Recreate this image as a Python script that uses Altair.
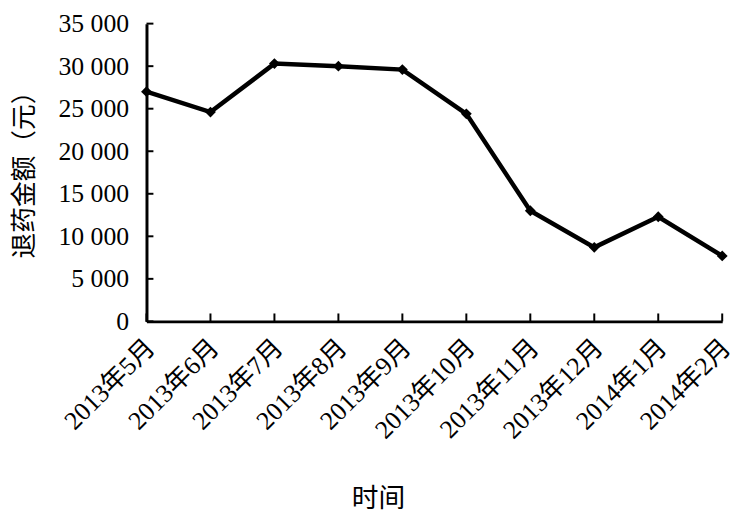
import altair as alt
import pandas as pd

months = ["2013年5月", "2013年6月", "2013年7月", "2013年8月", "2013年9月",
          "2013年10月", "2013年11月", "2013年12月", "2014年1月", "2014年2月"]
amounts = [27000, 24600, 30300, 30000, 29600, 24400, 13000, 8700, 12300, 7700]
y_ticks = [0, 5000, 10000, 15000, 20000, 25000, 30000, 35000]

df = pd.DataFrame({"month": months, "amount": amounts})
tick_df = pd.DataFrame({"v": y_ticks})

FONT = "Liberation Serif, Times New Roman, Noto Sans CJK SC"
TOP = 13
W, H = 582, 301

xscale = alt.Scale(type="point", padding=0, domain=months)
yscale = alt.Scale(domain=[0, 35000], nice=False)

line = alt.Chart(df).mark_line(
    color="black", strokeWidth=4.5,
    point=alt.OverlayMarkDef(shape="diamond", filled=True, color="black", size=120)
).encode(
    x=alt.X("month:N", scale=xscale, sort=months,
            axis=alt.Axis(title="时间", labelAngle=-45, labelAlign="right",
                          labelBaseline="middle", labelFontSize=26, labelPadding=22,
                          labelOffset=4, labelFont=FONT, labelColor="black",
                          titleFont=FONT, titleFontSize=27, titleFontWeight="normal",
                          titleColor="black", titleX=234, titleY=193,
                          titleAnchor="start", titleAlign="center",
                          titleBaseline="bottom", grid=False,
                          domainColor="black", domainWidth=3, ticks=False)),
    y=alt.Y("amount:Q", scale=yscale,
            axis=alt.Axis(title="退药金额（元）", values=y_ticks,
                          labelExpr="replace(format(datum.value, ','), ',', ' ')",
                          labelFontSize=26, labelFont=FONT, labelColor="black",
                          labelPadding=18, grid=False,
                          titleFont=FONT, titleFontSize=26, titleFontWeight="normal",
                          titleColor="black", titleX=-123, titleY=146,
                          titleAlign="center", titleBaseline="middle", titleAngle=-90,
                          domainColor="black", domainWidth=3, ticks=False)),
)

xticks = alt.Chart(df).mark_rule(color="black", strokeWidth=2).encode(
    x=alt.X("month:N", scale=xscale, sort=months),
    y=alt.value(H),
    y2=alt.value(H - 8),
)

yticks = alt.Chart(tick_df).mark_rule(color="black", strokeWidth=2).encode(
    y=alt.Y("v:Q", scale=yscale),
    x=alt.value(0),
    x2=alt.value(7),
)

chart = alt.layer(xticks, yticks, line).properties(
    width=W, height=H,
    autosize=alt.AutoSizeParams(type="none"),
    padding={"left": 140, "top": TOP, "right": 20, "bottom": 200},
).configure(background="white").configure_view(strokeWidth=0)

chart.save("out.html", embed_options={"renderer": "svg", "actions": False})
